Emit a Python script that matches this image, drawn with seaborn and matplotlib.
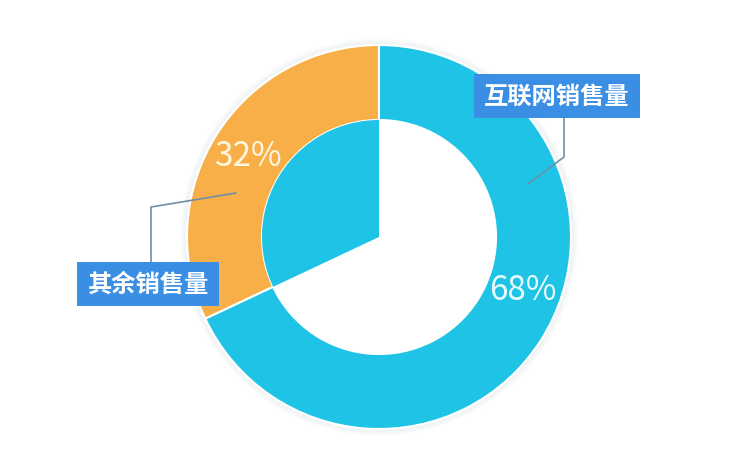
import matplotlib
matplotlib.use("Agg")
import matplotlib.pyplot as plt
import seaborn as sns

# chart data
labels = ["其余销售量", "互联网销售量"]
shares = [32, 68]
colors = ["#F8AF47", "#1EC3E6"]
box_color = "#3A8EE4"

sns.set_theme(style="white")
plt.rcParams["font.family"] = ["Noto Sans CJK SC", "DejaVu Sans"]

W, H = 756, 464
fig = plt.figure(figsize=(W / 100, H / 100), dpi=100)
ax = fig.add_axes([0, 0, 1, 1])

cx, cy = 379, H - 238
r_out, r_in = 192, 117

# soft glow just outside the ring
for i, a in enumerate([0.04, 0.06, 0.08]):
    ax.add_patch(plt.Circle((cx, cy), r_out + 5 - 2 * i, fill=False,
                            edgecolor="#9fb8c8", alpha=a, lw=3))

# the ring
ax.pie(shares, colors=colors, startangle=90, counterclock=True,
       center=(cx, cy), radius=r_out, frame=True,
       wedgeprops=dict(width=r_out - r_in, edgecolor="white", linewidth=1.5))

# inner wedge under the orange slice, filled cyan
ax.pie(shares, colors=[colors[1], "none"], startangle=90, counterclock=True,
       center=(cx, cy), radius=r_in, frame=True,
       wedgeprops=dict(edgecolor="none", linewidth=0))

ax.set_xlim(0, W)
ax.set_ylim(0, H)
ax.set_aspect("equal")
ax.axis("off")

# percentages
ax.text(248, H - 157, f"{shares[0]}%", color="#FFF6E0", fontsize=24,
        fontweight="light", ha="center", va="center", zorder=5)
ax.text(523, H - 291, f"{shares[1]}%", color="#E8FBFF", fontsize=24,
        fontweight="light", ha="center", va="center", zorder=5)

# leader lines
ax.plot([236, 151, 151], [H - 194, H - 208, H - 265], color="#6f8fa8", lw=1.2, zorder=4)
ax.plot([528, 564, 564], [H - 185, H - 158, H - 117], color="#6f8fa8", lw=1.2, zorder=4)

# label boxes
box = dict(boxstyle="square,pad=0.42", facecolor=box_color, edgecolor="none")
ax.text(148, H - 285, labels[0], color="white", fontsize=17.5, fontweight="bold",
        ha="center", va="center", bbox=box, zorder=6)
ax.text(557, H - 97, labels[1], color="white", fontsize=17.5, fontweight="bold",
        ha="center", va="center", bbox=box, zorder=6)

fig.savefig("out.png", dpi=100, facecolor="white")
